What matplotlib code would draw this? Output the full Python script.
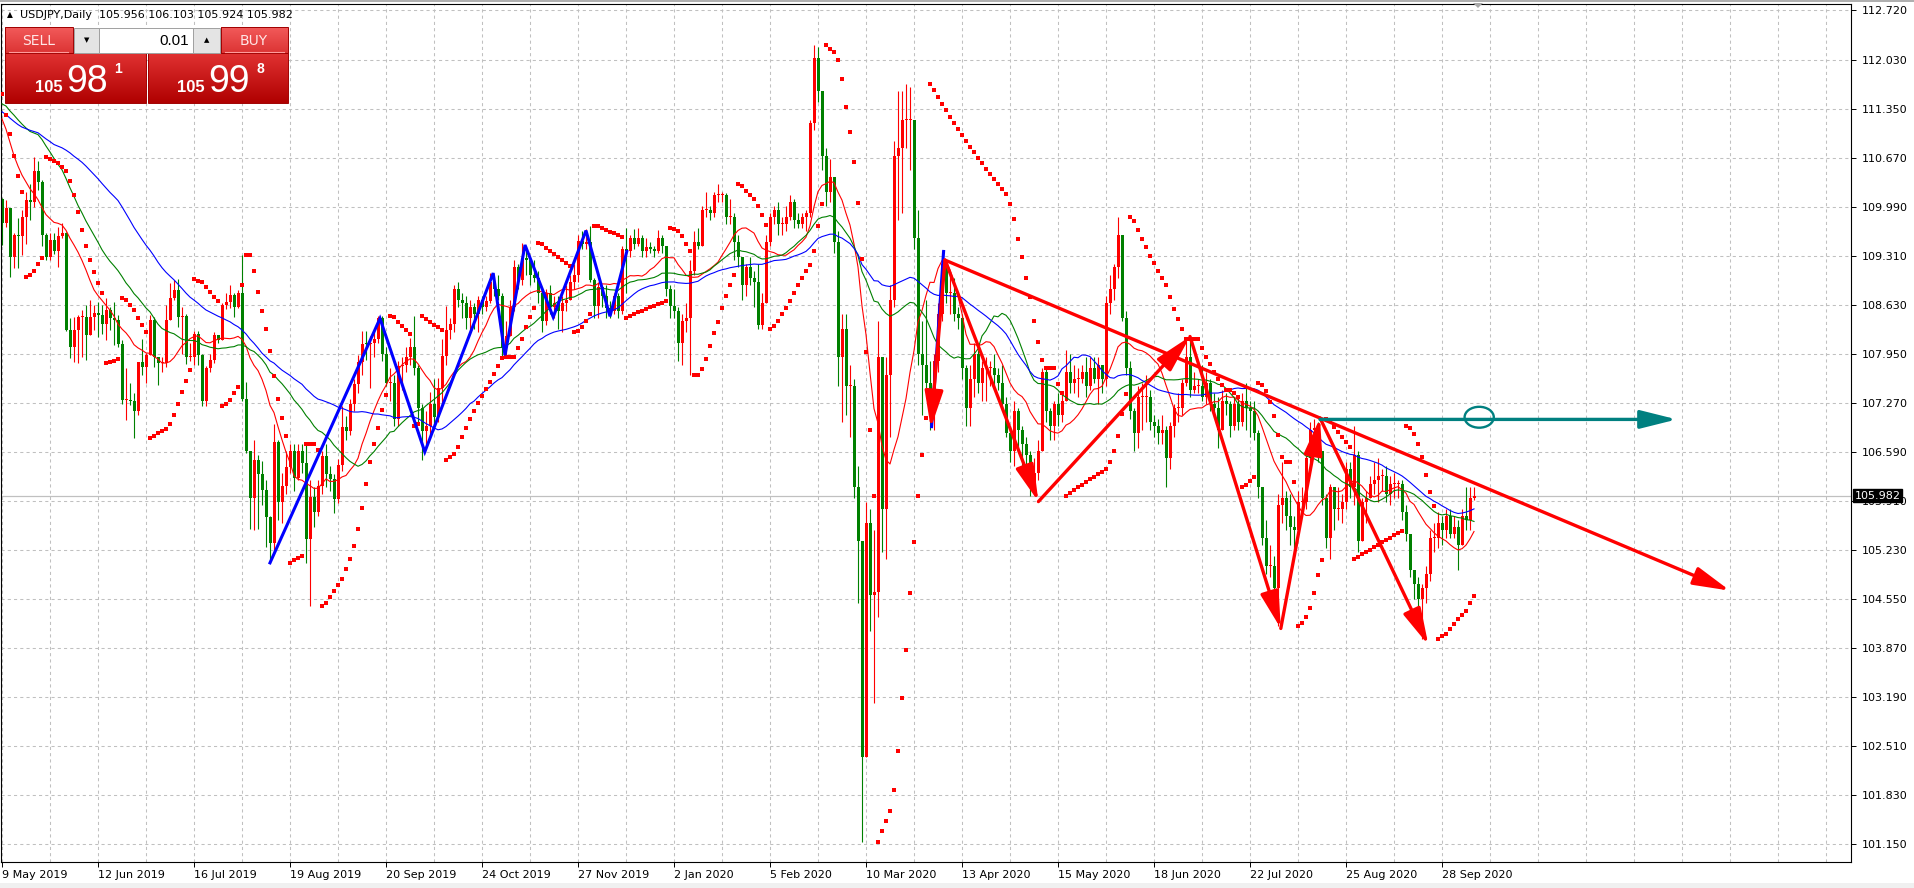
import numpy as np
import pandas as pd
import matplotlib
matplotlib.use('Agg')
import matplotlib.pyplot as plt
from matplotlib.patches import Ellipse, Rectangle, Polygon
from matplotlib.colors import LinearSegmentedColormap
import matplotlib.transforms as mtransforms

# ---- data: USDJPY daily, 9 May 2019 .. 8 Oct 2020 (one value per bar) ----
# closes before the first visible bar, only used to warm up the moving averages
pre_close = [111.40, 111.90, 111.75, 111.90, 111.75, 111.60, 111.15, 111.20, 111.35, 111.20,
             111.70, 111.45, 111.40, 111.40, 110.70, 110.80, 109.90, 109.95, 110.60, 110.50,
             110.65, 110.85, 111.35, 111.35, 111.50, 111.65, 111.70, 111.50, 111.15, 111.00,
             111.65, 112.00, 112.00, 112.05, 112.05, 111.90, 111.90, 111.95, 111.85, 112.20,
             111.60, 111.60, 111.40, 111.40, 111.45, 111.50, 111.10, 110.70, 110.30, 110.10]

first_open = 110.10

close = [
    109.76, 109.97, 109.30, 109.60, 109.58, 109.85, 110.08, 110.06, 110.49, 110.34,
    109.60, 109.30, 109.53, 109.37, 109.58, 109.63, 108.28, 108.05, 108.28, 108.46,
    108.46, 108.21, 108.46, 108.51, 108.49, 108.37, 108.56, 108.44, 108.42, 108.09,
    107.31, 107.31, 107.29, 107.15, 107.84, 107.77, 107.93, 108.42, 107.91, 107.82,
    107.82, 108.42, 108.72, 108.84, 108.46, 108.48, 107.91, 107.91, 108.23, 107.93,
    107.29, 107.75, 107.86, 108.21, 108.14, 108.63, 108.67, 108.77, 108.60, 108.79,
    107.33, 106.60, 105.95, 106.47, 106.28, 106.06, 105.68, 105.32, 106.73, 105.90,
    106.12, 106.38, 106.60, 106.23, 106.60, 106.43, 105.38, 105.97, 105.75, 106.11,
    106.53, 106.28, 106.22, 105.94, 106.41, 106.94, 106.88, 107.25, 107.53, 107.83,
    108.09, 108.08, 108.10, 108.15, 108.45, 107.95, 107.55, 107.55, 107.05, 107.78,
    107.80, 107.90, 108.05, 107.75, 107.20, 106.88, 106.95, 107.25, 107.08, 107.48,
    107.92, 108.28, 108.36, 108.85, 108.70, 108.65, 108.45, 108.60, 108.50, 108.70,
    108.60, 108.68, 108.95, 108.85, 108.75, 108.05, 108.20, 108.60, 109.15, 108.98,
    109.28, 109.25, 109.05, 109.00, 108.80, 108.40, 108.80, 108.60, 108.65, 108.55,
    108.65, 108.70, 108.95, 109.05, 109.52, 109.48, 109.50, 108.98, 108.62, 108.88,
    108.75, 108.58, 108.55, 108.75, 108.55, 109.40, 109.37, 109.55, 109.48, 109.55,
    109.38, 109.43, 109.40, 109.38, 109.55, 109.45, 108.85, 108.62, 108.55, 108.10,
    108.40, 108.45, 109.10, 109.50, 109.45, 109.95, 109.95, 109.90, 110.15, 110.15,
    110.15, 109.85, 109.85, 109.50, 109.30, 108.90, 109.15, 109.00, 108.95, 108.35,
    108.65, 109.50, 109.85, 109.95, 109.75, 109.75, 109.85, 110.05, 109.80, 109.75,
    109.85, 109.90, 111.15, 112.05, 111.60, 110.70, 110.20, 110.40, 109.50, 107.90,
    108.30, 107.50, 107.50, 106.10, 105.35, 102.35, 105.60, 104.60, 104.65, 107.90,
    105.80, 107.65, 108.70, 110.70, 110.80, 111.20, 111.20, 111.20, 109.55, 107.95,
    107.80, 107.55, 107.20, 107.85, 108.50, 109.20, 108.80, 108.80, 108.50, 108.45,
    107.75, 107.20, 107.60, 107.95, 107.55, 107.75, 107.75, 107.75, 107.65, 107.55,
    107.25, 106.85, 106.60, 107.15, 106.90, 106.70, 106.55, 106.10, 106.30, 106.60,
    107.70, 107.15, 106.95, 107.25, 107.10, 107.30, 107.70, 107.55, 107.60, 107.60,
    107.70, 107.50, 107.75, 107.60, 107.80, 107.60, 108.65, 108.85, 109.15, 109.60,
    108.45, 107.75, 107.15, 106.85, 107.35, 107.35, 107.35, 107.00, 106.95, 106.85,
    106.90, 106.50, 106.95, 107.20, 107.20, 107.55, 107.90, 107.45, 107.50, 107.50,
    107.35, 107.55, 107.25, 107.20, 106.90, 107.30, 107.25, 106.95, 107.25, 107.00,
    107.30, 107.20, 107.15, 106.85, 106.10, 105.40, 105.00, 105.00, 104.70, 105.85,
    105.95, 105.70, 105.55, 105.50, 105.90, 105.90, 106.50, 106.90, 106.90, 106.60,
    105.95, 105.40, 106.10, 105.80, 105.80, 105.90, 106.35, 106.10, 106.55, 105.35,
    105.90, 105.95, 106.15, 106.20, 106.25, 106.25, 106.00, 106.15, 106.15, 106.15,
    105.75, 105.45, 104.95, 104.75, 104.55, 104.70, 104.90, 105.40, 105.40, 105.60,
    105.50, 105.70, 105.45, 105.55, 105.30, 105.70, 105.65, 105.956, 105.982]

high = [
    110.11, 110.08, 109.75, 109.62, 109.83, 109.94, 110.20, 110.31, 110.68, 110.62,
    110.36, 109.62, 109.62, 109.62, 109.71, 109.76, 109.64, 108.44, 108.46, 108.49,
    108.56, 108.63, 108.70, 108.63, 108.67, 108.63, 108.72, 108.60, 108.67, 108.49,
    108.14, 107.75, 107.54, 107.40, 107.84, 108.16, 107.96, 108.49, 108.46, 107.91,
    107.91, 108.63, 108.93, 108.98, 108.99, 108.60, 108.50, 108.10, 108.26, 108.27,
    107.95, 107.78, 107.95, 108.25, 108.20, 108.66, 108.80, 108.90, 108.79, 108.84,
    109.32, 107.56, 106.60, 106.76, 106.55, 106.46, 106.20, 105.70, 106.98, 106.75,
    106.30, 106.60, 106.70, 106.70, 106.70, 106.70, 106.70, 106.20, 106.10, 106.20,
    106.60, 106.70, 106.40, 106.28, 106.49, 107.23, 107.09, 107.33, 107.60, 107.93,
    108.26, 108.26, 108.20, 108.25, 108.48, 108.48, 108.05, 107.75, 107.65, 107.85,
    107.90, 108.05, 108.17, 108.47, 107.80, 107.25, 107.15, 107.42, 107.60, 107.62,
    108.15, 108.62, 108.45, 108.90, 108.95, 108.80, 108.75, 108.70, 108.65, 108.75,
    108.75, 108.75, 109.07, 109.02, 109.05, 108.80, 108.40, 108.70, 109.25, 109.20,
    109.49, 109.45, 109.25, 109.25, 109.10, 108.85, 108.85, 108.90, 108.75, 108.75,
    108.75, 108.90, 109.05, 109.20, 109.60, 109.65, 109.68, 109.72, 109.00, 108.95,
    108.85, 108.90, 108.68, 108.80, 108.80, 109.45, 109.70, 109.60, 109.68, 109.70,
    109.60, 109.55, 109.50, 109.45, 109.67, 109.60, 109.45, 108.90, 108.85, 108.60,
    108.50, 108.65, 109.25, 109.65, 109.70, 110.00, 110.20, 110.00, 110.20, 110.30,
    110.20, 110.18, 110.10, 109.90, 109.60, 109.25, 109.20, 109.30, 109.10, 109.20,
    108.80, 109.60, 109.90, 110.00, 110.05, 109.85, 110.00, 110.15, 110.10, 109.90,
    109.90, 109.95, 111.20, 112.23, 112.20, 111.50, 110.80, 110.65, 110.40, 109.65,
    108.50, 108.50, 107.80, 107.60, 106.40, 105.00, 105.90, 105.80, 105.50, 108.40,
    107.80, 107.90, 108.90, 110.90, 111.60, 111.60, 111.70, 111.65, 111.20, 109.95,
    108.40, 108.70, 107.85, 107.95, 108.65, 109.38, 109.20, 109.10, 109.00, 108.60,
    108.50, 107.80, 107.80, 108.10, 108.00, 107.85, 107.90, 107.85, 107.95, 107.75,
    107.80, 107.35, 106.95, 107.30, 107.20, 106.95, 106.80, 106.60, 106.50, 106.75,
    107.75, 107.75, 107.20, 107.30, 107.40, 107.40, 108.00, 107.95, 107.80, 107.75,
    107.80, 107.90, 107.90, 107.90, 107.90, 107.80, 108.75, 109.05, 109.20, 109.85,
    109.60, 108.55, 107.85, 107.20, 107.50, 107.55, 107.65, 107.45, 107.10, 107.05,
    107.10, 106.95, 107.00, 107.25, 107.40, 107.60, 108.15, 108.15, 107.70, 107.60,
    107.80, 107.70, 107.60, 107.40, 107.35, 107.45, 107.40, 107.30, 107.35, 107.35,
    107.40, 107.55, 107.30, 107.30, 106.90, 106.10, 105.65, 105.30, 105.15, 106.00,
    106.45, 106.05, 106.00, 105.70, 106.05, 106.10, 106.55, 107.00, 107.05, 107.00,
    106.60, 106.00, 106.15, 106.10, 106.10, 106.00, 106.45, 106.45, 106.95, 106.60,
    105.95, 106.05, 106.25, 106.45, 106.50, 106.35, 106.40, 106.25, 106.30, 106.20,
    106.20, 105.85, 105.45, 104.95, 104.85, 104.75, 105.00, 105.50, 105.60, 105.75,
    105.70, 105.80, 105.80, 105.70, 105.65, 105.80, 106.10, 106.10, 106.103]

low = [
    109.46, 109.71, 109.02, 109.14, 109.14, 109.32, 109.48, 109.81, 109.99, 110.22,
    109.44, 109.25, 109.25, 109.34, 109.16, 109.55, 108.26, 107.89, 107.84, 107.82,
    107.91, 107.86, 108.28, 108.28, 108.19, 108.23, 108.14, 108.28, 108.07, 108.05,
    107.26, 107.03, 107.24, 106.78, 107.10, 107.65, 107.54, 108.00, 107.77, 107.52,
    107.70, 107.77, 108.42, 108.70, 108.32, 107.95, 107.81, 107.85, 107.80, 107.80,
    107.22, 107.22, 107.70, 107.82, 108.10, 108.14, 108.57, 108.58, 108.46, 108.58,
    107.29, 106.58, 105.52, 105.50, 105.52, 105.85, 105.27, 105.05, 105.20, 105.65,
    105.60, 106.00, 106.30, 106.05, 106.20, 106.30, 105.05, 104.45, 105.55, 105.70,
    106.00, 106.10, 106.05, 105.74, 105.88, 106.33, 106.75, 106.83, 107.15, 107.40,
    107.66, 107.87, 107.48, 107.90, 108.10, 107.85, 107.50, 107.30, 106.95, 106.95,
    107.45, 107.70, 107.80, 107.65, 107.00, 106.48, 106.68, 106.80, 106.95, 107.00,
    107.25, 107.80, 108.15, 108.25, 108.60, 108.45, 108.30, 108.30, 108.30, 108.25,
    108.50, 108.55, 108.65, 108.75, 108.70, 107.90, 107.90, 108.20, 108.55, 108.85,
    108.90, 109.05, 108.90, 108.95, 108.65, 108.25, 108.35, 108.50, 108.45, 108.30,
    108.25, 108.55, 108.70, 108.85, 108.95, 109.40, 109.40, 108.95, 108.45, 108.45,
    108.60, 108.45, 108.45, 108.50, 108.45, 108.50, 108.80, 109.30, 109.40, 109.45,
    109.30, 109.30, 109.35, 109.30, 109.35, 109.35, 108.75, 108.45, 108.45, 107.85,
    107.80, 108.25, 107.66, 109.05, 109.40, 109.45, 109.85, 109.80, 109.85, 110.05,
    110.05, 109.75, 109.75, 109.25, 109.15, 108.70, 108.75, 108.90, 108.60, 108.30,
    108.30, 108.70, 109.45, 109.75, 109.60, 109.60, 109.65, 109.80, 109.70, 109.70,
    109.70, 109.65, 109.85, 111.05, 111.45, 110.50, 110.00, 110.05, 109.35, 107.50,
    107.00, 107.10, 106.80, 105.95, 104.50, 101.18, 102.50, 104.10, 103.10, 104.30,
    105.20, 105.10, 106.80, 108.60, 109.80, 109.90, 110.80, 110.50, 109.40, 107.80,
    107.10, 107.40, 106.90, 106.90, 107.70, 108.40, 108.65, 108.50, 108.40, 108.30,
    107.60, 106.95, 106.95, 107.35, 107.40, 107.30, 107.30, 107.50, 107.50, 107.45,
    107.20, 106.80, 106.45, 106.40, 106.60, 106.35, 106.40, 105.98, 106.00, 106.20,
    106.60, 107.00, 106.75, 106.75, 106.95, 107.00, 107.30, 107.40, 107.40, 107.35,
    107.55, 107.35, 107.45, 107.55, 107.25, 107.40, 107.50, 108.50, 108.70, 109.00,
    108.40, 107.65, 107.05, 106.60, 106.65, 106.90, 107.00, 106.90, 106.80, 106.70,
    106.70, 106.10, 106.35, 106.80, 107.00, 107.10, 107.50, 107.35, 107.40, 107.40,
    107.30, 107.25, 107.15, 107.10, 106.65, 106.90, 107.10, 106.80, 106.90, 106.90,
    106.95, 106.90, 106.80, 106.75, 105.95, 105.30, 104.90, 104.85, 104.55, 104.18,
    105.60, 105.50, 105.30, 105.20, 105.45, 105.70, 105.80, 106.40, 106.60, 106.45,
    105.85, 105.25, 105.10, 105.50, 105.65, 105.60, 105.80, 105.95, 105.85, 105.20,
    105.35, 105.60, 105.95, 106.00, 105.90, 106.05, 105.90, 105.85, 105.95, 105.95,
    105.65, 105.35, 104.85, 104.55, 104.40, 104.00, 104.50, 104.80, 105.20, 105.25,
    105.30, 105.40, 105.40, 105.40, 104.95, 105.30, 105.50, 105.50, 105.924]

date_labels = ['9 May 2019', '12 Jun 2019', '16 Jul 2019', '19 Aug 2019', '20 Sep 2019',
               '24 Oct 2019', '27 Nov 2019', '2 Jan 2020', '5 Feb 2020', '10 Mar 2020',
               '13 Apr 2020', '15 May 2020', '18 Jun 2020', '22 Jul 2020', '25 Aug 2020',
               '28 Sep 2020']
price_ticks = [112.720, 112.030, 111.350, 110.670, 109.990, 109.310, 108.630, 107.950, 107.270,
               106.590, 105.910, 105.230, 104.550, 103.870, 103.190, 102.510, 101.830, 101.150]
bid = 105.982

# parabolic SAR state at the first bar (trend already running down)
sar_seed, sar_ep_seed, sar_af_seed = 111.55, 109.46, 0.14

# drawn objects, anchored at (bar number, price)
zigzag1_bar = [67, 94.5, 105.7, 122.8, 125.75, 130.75, 137.8, 146, 152, 156.2]
zigzag1_px = [105.05, 108.44, 106.59, 109.07, 107.93, 109.46, 108.46, 109.66, 108.47, 109.37]
zigzag2_bar = [232.4, 235.4]
zigzag2_px = [106.94, 109.37]

wave_bar = [235.75, 259.1, 297, 319.7, 329.5, 356.6]
wave_px = [109.25, 105.90, 108.19, 104.14, 107.06, 103.91]
first_leg_end = (232.2, 106.92)
trend_start = (235.75, 109.25)
trend_end = (432, 104.664)
level_start = (329.5, 107.04)
level_end = (418.7, 107.04)
ring_center = (369.3, 107.07)

# ---- indicators ----
close = np.array(close)
opens = np.array([first_open] + list(close[:-1]))
high = np.maximum(np.array(high), np.maximum(opens, close))
low = np.minimum(np.array(low), np.minimum(opens, close))
n = len(close)
bars = np.arange(n)

full_close = pd.Series(pre_close + list(close))
sma14 = full_close.rolling(14).mean().values[len(pre_close):]
sma30 = full_close.rolling(30).mean().values[len(pre_close):]
sma50 = full_close.rolling(50).mean().values[len(pre_close):]


def parabolic_sar(hi, lo, sar, ep, af, step=0.02, amax=0.2):
    trend = -1
    out = []
    for i in range(len(hi)):
        if i > 0:
            sar = sar + af * (ep - sar)
            if trend < 0:
                sar = max(sar, hi[i - 1], hi[max(i - 2, 0)])
                if hi[i] > sar:
                    trend, sar, ep, af = 1, ep, hi[i], step
                elif lo[i] < ep:
                    ep, af = lo[i], min(af + step, amax)
            else:
                sar = min(sar, lo[i - 1], lo[max(i - 2, 0)])
                if lo[i] < sar:
                    trend, sar, ep, af = -1, ep, lo[i], step
                elif hi[i] > ep:
                    ep, af = hi[i], min(af + step, amax)
        out.append(sar)
    return np.array(out)


sar = parabolic_sar(high, low, sar_seed, sar_ep_seed, sar_af_seed)

# ---- figure ----
W, H = 1915, 888
fig = plt.figure(figsize=(W / 100, H / 100), dpi=100)
fig.patch.set_facecolor('white')
ax = fig.add_axes([1 / W, 26 / H, 1850 / W, 858 / H])
ax.set_xlim(-0.25, 462.25)
ax.set_ylim(100.900, 112.803)

grid_kw = dict(color='#c0c0c0', lw=0.75, ls=(0, (3, 3)), zorder=0.5)
for gx in range(0, 463, 12):
    ax.axvline(gx, **grid_kw)
for gy in price_ticks:
    ax.axhline(gy, **grid_kw)
ax.axhline(bid, color='#c0c0c0', lw=0.9, zorder=0.8)

up = close >= opens
colors = np.where(up, '#ff0000', '#008000')
ax.vlines(bars, low, high, colors=colors, lw=0.8, zorder=2)
body_lo = np.minimum(opens, close)
body_h = np.maximum(np.abs(close - opens), 0.014)
ax.bar(bars, body_h, bottom=body_lo, width=0.75, color=colors, linewidth=0, zorder=2.1)

ax.plot(bars, sma14, color='#ff0000', lw=0.8, zorder=3)
ax.plot(bars, sma30, color='#008000', lw=0.8, zorder=3)
ax.plot(bars, sma50, color='#0000ff', lw=0.8, zorder=3)
ax.plot(bars, sar, ls='none', marker='s', ms=2.6, mfc='#ff0000', mec='#ff0000', mew=0, zorder=4)

ax.plot(zigzag1_bar, zigzag1_px, color='#0000ff', lw=2.2, zorder=5, solid_joinstyle='miter')
ax.plot(zigzag2_bar, zigzag2_px, color='#0000ff', lw=2.2, zorder=5)

arrow_style = '-|>,head_length=1.6,head_width=0.4'


def arrow(p0, p1, color, lw=2.4):
    ax.annotate('', xy=p1, xytext=p0,
                arrowprops=dict(arrowstyle=arrow_style, color=color, lw=lw,
                                shrinkA=0, shrinkB=0, mutation_scale=14),
                zorder=6)


arrow(trend_start, first_leg_end, '#ff0000')
for k in range(len(wave_bar) - 1):
    arrow((wave_bar[k], wave_px[k]), (wave_bar[k + 1], wave_px[k + 1]), '#ff0000')
arrow(trend_start, trend_end, '#ff0000')
arrow(level_start, level_end, '#008080')
ax.add_patch(Ellipse(ring_center, width=7.3, height=0.29, fill=False, ec='#008080', lw=1.7, zorder=6))

# axes cosmetics
for s in ax.spines.values():
    s.set_color('black')
    s.set_linewidth(0.8)
ax.yaxis.tick_right()
ax.set_yticks(price_ticks, ['%.3f' % v for v in price_ticks])
ax.set_xticks(np.arange(0, 24 * len(date_labels), 24), date_labels)
ax.tick_params(axis='both', direction='out', length=3.5, width=0.7, colors='black',
               labelsize=8, pad=2)
ax.tick_params(axis='y', pad=4)
for lbl in ax.get_xticklabels():
    lbl.set_horizontalalignment('left')
ax.annotate('%.3f' % bid, xy=(1, bid), xycoords=('axes fraction', 'data'),
            xytext=(2.5, 0), textcoords='offset points', ha='left', va='center',
            fontsize=8, color='white', zorder=10, annotation_clip=False,
            bbox=dict(boxstyle='square,pad=0.12', fc='black', ec='black'))

# ---- terminal overlay (pixel coordinates of the window) ----
ui = fig.add_axes([0, 0, 1, 1], zorder=20)
ui.set_xlim(0, W)
ui.set_ylim(H, 0)
ui.axis('off')
ui.patch.set_alpha(0)

ui.add_patch(Rectangle((0, 883), W, 5, color='#f0f0f0', lw=0))
ui.plot([0, W], [0.8, 0.8], color='#a0a0a0', lw=1.2)
ui.add_patch(Polygon([(1473, 3), (1483, 3), (1478, 8)], color='#a8a8a8', lw=0))


def grad_box(x0, y0, x1, y1, top, bottom):
    cmap = LinearSegmentedColormap.from_list('g', [top, bottom])
    ui.imshow(np.linspace(0, 1, 64).reshape(-1, 1), cmap=cmap, aspect='auto',
              extent=(x0, x1, y1, y0), interpolation='bilinear', zorder=1)
    ui.add_patch(Rectangle((x0, y0), x1 - x0, y1 - y0, fill=False, ec='#a00000', lw=0.7, zorder=2))


grad_box(5, 27, 73, 53, '#f25a5a', '#dc3434')
grad_box(221, 27, 288, 53, '#f25a5a', '#dc3434')
grad_box(5, 53, 146, 103, '#e03232', '#b00000')
grad_box(148, 53, 288, 103, '#e03232', '#b00000')
ui.plot([9, 68], [52, 52], color='#ff9c9c', lw=0.8, zorder=3)
ui.plot([225, 284], [52, 52], color='#ff9c9c', lw=0.8, zorder=3)

ui.add_patch(Rectangle((74, 28), 25, 25, fc='#e4e4e4', ec='#a0a0a0', lw=0.7, zorder=2))
ui.add_patch(Rectangle((99, 28), 94, 25, fc='white', ec='#a0a0a0', lw=0.7, zorder=2))
ui.add_patch(Rectangle((193, 28), 27, 25, fc='#e4e4e4', ec='#a0a0a0', lw=0.7, zorder=2))
ui.text(86.5, 40.5, '\u25bc', fontsize=5, ha='center', va='center', zorder=4)
ui.text(206.5, 40.5, '\u25b2', fontsize=5, ha='center', va='center', zorder=4)
ui.text(189, 41, '0.01', fontsize=11, family='Liberation Sans', ha='right', va='center', zorder=4)

ui.text(39, 41, 'SELL', fontsize=10, color='#ffe6e6', ha='center', va='center', zorder=4)
ui.text(254, 41, 'BUY', fontsize=10, color='#ffe6e6', ha='center', va='center', zorder=4)

big = dict(color='white', family='Liberation Sans', zorder=4)
ui.text(35, 92, '105', fontsize=12, weight='bold', va='baseline', **big)
ui.text(66, 92, '98', fontsize=27, va='baseline', **big)
ui.text(114, 62, '1', fontsize=10, weight='bold', va='top', **big)
ui.text(177, 92, '105', fontsize=12, weight='bold', va='baseline', **big)
ui.text(208, 92, '99', fontsize=27, va='baseline', **big)
ui.text(257, 62, '8', fontsize=10, weight='bold', va='top', **big)

ui.text(7, 15, '\u25b2', fontsize=5.5, va='center', zorder=4)
ui.text(20, 15, 'USDJPY,Daily  105.956 106.103 105.924 105.982', fontsize=8, va='center', zorder=4)

fig.savefig('out.png', dpi=100)
